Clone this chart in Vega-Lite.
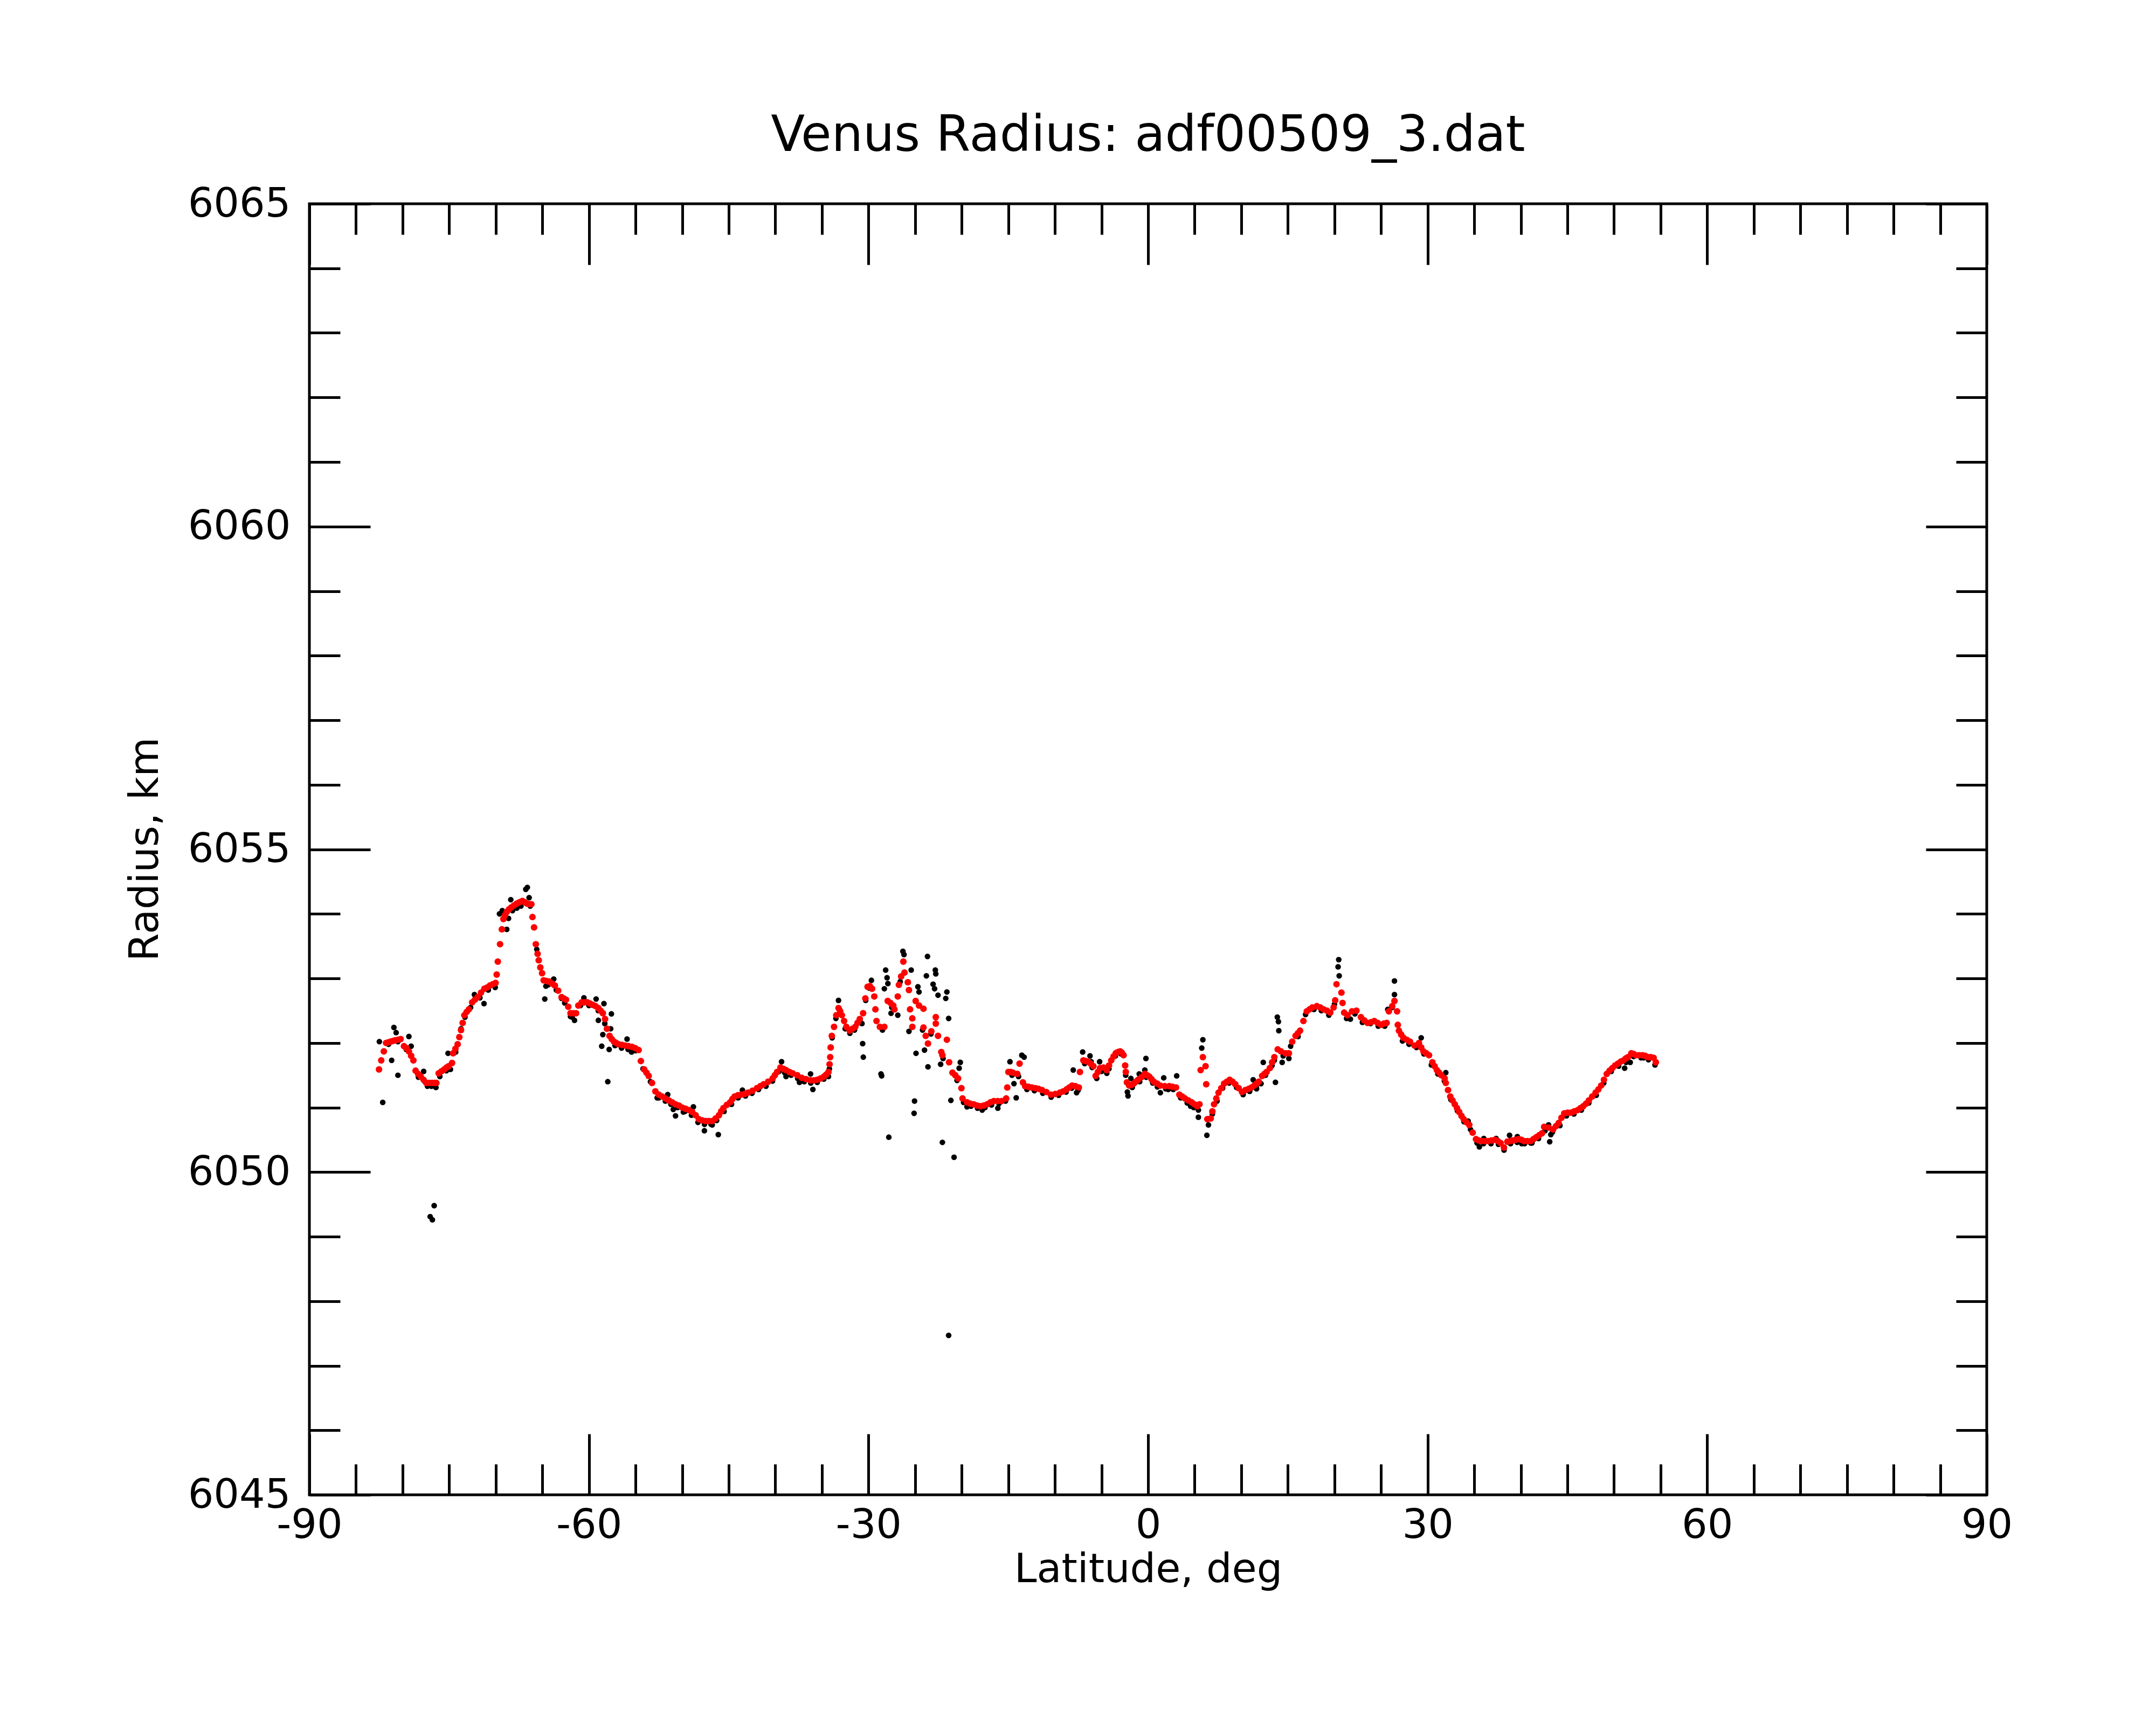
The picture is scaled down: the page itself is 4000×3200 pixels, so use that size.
{
  "$schema": "https://vega.github.io/schema/vega-lite/v6.json",
  "width": 3112,
  "height": 2395,
  "autosize": "none",
  "padding": {"left": 574, "top": 378, "right": 314, "bottom": 427},
  "background": "white",
  "title": {
    "text": "Venus Radius: adf00509_3.dat",
    "fontSize": 92,
    "fontWeight": "normal",
    "color": "black",
    "anchor": "middle",
    "baseline": "alphabetic",
    "offset": -31
  },
  "config": {
    "font": "DejaVu Sans",
    "view": {"stroke": "black", "strokeWidth": 5}
  },
  "datasets": {
    "raw": [
      {"lat": -82.49, "r": 6052.02}, {"lat": -82.13, "r": 6051.08}, {"lat": -81.5, "r": 6051.98}, {"lat": -81.17, "r": 6051.73},
      {"lat": -80.93, "r": 6052.24}, {"lat": -80.69, "r": 6052.16}, {"lat": -80.5, "r": 6051.5}, {"lat": -80.5, "r": 6052.02},
      {"lat": -79.6, "r": 6051.9}, {"lat": -79.32, "r": 6052.1}, {"lat": -79.08, "r": 6051.95}, {"lat": -78.3, "r": 6051.47},
      {"lat": -77.74, "r": 6051.56}, {"lat": -77.6, "r": 6051.4}, {"lat": -77.33, "r": 6051.33}, {"lat": -77.04, "r": 6049.31},
      {"lat": -76.9, "r": 6051.33}, {"lat": -76.8, "r": 6049.26}, {"lat": -76.61, "r": 6049.48}, {"lat": -76.42, "r": 6051.31},
      {"lat": -76.0, "r": 6051.48}, {"lat": -75.3, "r": 6051.57}, {"lat": -75.12, "r": 6051.84}, {"lat": -74.86, "r": 6051.59},
      {"lat": -74.3, "r": 6051.86}, {"lat": -73.73, "r": 6052.22}, {"lat": -73.3, "r": 6052.4}, {"lat": -72.7, "r": 6052.55},
      {"lat": -72.29, "r": 6052.75}, {"lat": -71.7, "r": 6052.7}, {"lat": -71.26, "r": 6052.61}, {"lat": -70.8, "r": 6052.82},
      {"lat": -70.06, "r": 6052.86}, {"lat": -69.6, "r": 6054.0}, {"lat": -69.3, "r": 6054.05}, {"lat": -68.82, "r": 6053.76},
      {"lat": -68.63, "r": 6053.93}, {"lat": -68.39, "r": 6054.22}, {"lat": -68.2, "r": 6054.05}, {"lat": -67.74, "r": 6054.09},
      {"lat": -67.3, "r": 6054.12}, {"lat": -66.78, "r": 6054.38}, {"lat": -66.61, "r": 6054.41}, {"lat": -66.42, "r": 6054.25},
      {"lat": -66.3, "r": 6054.12}, {"lat": -65.6, "r": 6053.45}, {"lat": -64.74, "r": 6052.68}, {"lat": -64.62, "r": 6052.88},
      {"lat": -64.4, "r": 6052.9}, {"lat": -63.78, "r": 6052.99}, {"lat": -63.5, "r": 6052.82}, {"lat": -62.94, "r": 6052.69},
      {"lat": -62.6, "r": 6052.62}, {"lat": -61.98, "r": 6052.41}, {"lat": -61.8, "r": 6052.4}, {"lat": -61.55, "r": 6052.35},
      {"lat": -60.9, "r": 6052.58}, {"lat": -60.54, "r": 6052.7}, {"lat": -60.0, "r": 6052.58}, {"lat": -59.23, "r": 6052.68},
      {"lat": -59.0, "r": 6052.5}, {"lat": -58.99, "r": 6052.35}, {"lat": -58.63, "r": 6051.95}, {"lat": -58.51, "r": 6052.13},
      {"lat": -58.39, "r": 6052.61}, {"lat": -58.3, "r": 6052.3}, {"lat": -57.98, "r": 6051.4}, {"lat": -57.83, "r": 6051.9},
      {"lat": -57.67, "r": 6052.22}, {"lat": -57.59, "r": 6052.45}, {"lat": -57.2, "r": 6051.96}, {"lat": -56.5, "r": 6051.92},
      {"lat": -55.91, "r": 6052.06}, {"lat": -55.8, "r": 6051.9}, {"lat": -55.43, "r": 6051.86}, {"lat": -55.0, "r": 6051.88},
      {"lat": -54.2, "r": 6051.6}, {"lat": -53.4, "r": 6051.4}, {"lat": -52.68, "r": 6051.15}, {"lat": -52.5, "r": 6051.15},
      {"lat": -51.8, "r": 6051.1}, {"lat": -51.55, "r": 6051.2}, {"lat": -51.2, "r": 6051.05}, {"lat": -50.95, "r": 6050.97},
      {"lat": -50.71, "r": 6050.87}, {"lat": -50.5, "r": 6051.0}, {"lat": -49.87, "r": 6050.93}, {"lat": -49.7, "r": 6050.94},
      {"lat": -49.0, "r": 6050.88}, {"lat": -48.79, "r": 6051.01}, {"lat": -48.3, "r": 6050.77}, {"lat": -47.61, "r": 6050.64},
      {"lat": -47.6, "r": 6050.74}, {"lat": -46.9, "r": 6050.74}, {"lat": -46.77, "r": 6050.73}, {"lat": -46.3, "r": 6050.8},
      {"lat": -46.12, "r": 6050.58}, {"lat": -45.5, "r": 6050.94}, {"lat": -44.7, "r": 6051.05}, {"lat": -44.0, "r": 6051.15},
      {"lat": -43.53, "r": 6051.27}, {"lat": -43.2, "r": 6051.18}, {"lat": -42.5, "r": 6051.22}, {"lat": -41.8, "r": 6051.28},
      {"lat": -41.0, "r": 6051.33}, {"lat": -40.3, "r": 6051.41}, {"lat": -39.6, "r": 6051.56}, {"lat": -39.33, "r": 6051.71},
      {"lat": -39.0, "r": 6051.54}, {"lat": -38.85, "r": 6051.48}, {"lat": -38.3, "r": 6051.5}, {"lat": -37.6, "r": 6051.45},
      {"lat": -37.41, "r": 6051.39}, {"lat": -36.9, "r": 6051.4}, {"lat": -36.22, "r": 6051.52}, {"lat": -36.2, "r": 6051.38},
      {"lat": -35.97, "r": 6051.28}, {"lat": -35.5, "r": 6051.39}, {"lat": -34.8, "r": 6051.44}, {"lat": -34.3, "r": 6051.48},
      {"lat": -34.2, "r": 6051.6}, {"lat": -33.9, "r": 6052.08}, {"lat": -33.5, "r": 6052.38}, {"lat": -33.22, "r": 6052.66},
      {"lat": -33.1, "r": 6052.52}, {"lat": -32.5, "r": 6052.22}, {"lat": -32.0, "r": 6052.15}, {"lat": -31.5, "r": 6052.2},
      {"lat": -30.9, "r": 6052.33}, {"lat": -30.7, "r": 6052.3}, {"lat": -30.63, "r": 6051.99}, {"lat": -30.56, "r": 6051.78},
      {"lat": -30.3, "r": 6052.66}, {"lat": -29.9, "r": 6052.85}, {"lat": -29.69, "r": 6052.97}, {"lat": -28.66, "r": 6051.52},
      {"lat": -28.59, "r": 6051.49}, {"lat": -28.5, "r": 6052.2}, {"lat": -28.3, "r": 6052.84}, {"lat": -28.16, "r": 6053.13},
      {"lat": -28.01, "r": 6053.01}, {"lat": -27.92, "r": 6052.92}, {"lat": -27.82, "r": 6050.54}, {"lat": -27.58, "r": 6052.46},
      {"lat": -27.5, "r": 6052.55}, {"lat": -26.86, "r": 6052.43}, {"lat": -26.6, "r": 6052.95}, {"lat": -26.31, "r": 6053.42},
      {"lat": -26.19, "r": 6053.37}, {"lat": -25.66, "r": 6052.18}, {"lat": -25.42, "r": 6053.13}, {"lat": -25.11, "r": 6050.91},
      {"lat": -25.06, "r": 6051.1}, {"lat": -24.9, "r": 6051.84}, {"lat": -24.7, "r": 6052.87}, {"lat": -24.58, "r": 6052.79},
      {"lat": -24.2, "r": 6052.2}, {"lat": -23.99, "r": 6051.89}, {"lat": -23.79, "r": 6053.04}, {"lat": -23.67, "r": 6053.34},
      {"lat": -23.62, "r": 6051.63}, {"lat": -23.3, "r": 6052.14}, {"lat": -23.07, "r": 6052.91}, {"lat": -22.91, "r": 6052.84},
      {"lat": -22.83, "r": 6053.13}, {"lat": -22.78, "r": 6053.07}, {"lat": -22.54, "r": 6052.74}, {"lat": -22.26, "r": 6051.67},
      {"lat": -22.07, "r": 6050.46}, {"lat": -22.0, "r": 6051.76}, {"lat": -21.71, "r": 6052.69}, {"lat": -21.59, "r": 6052.79},
      {"lat": -21.4, "r": 6052.38}, {"lat": -21.4, "r": 6047.47}, {"lat": -21.16, "r": 6051.11}, {"lat": -20.82, "r": 6050.23},
      {"lat": -20.5, "r": 6051.42}, {"lat": -20.27, "r": 6051.61}, {"lat": -20.15, "r": 6051.7}, {"lat": -19.8, "r": 6051.08},
      {"lat": -19.43, "r": 6051.01}, {"lat": -19.0, "r": 6051.02}, {"lat": -18.3, "r": 6050.99}, {"lat": -17.8, "r": 6050.96},
      {"lat": -17.5, "r": 6051.0}, {"lat": -16.8, "r": 6051.04}, {"lat": -16.12, "r": 6050.99}, {"lat": -16.0, "r": 6051.06},
      {"lat": -15.3, "r": 6051.1}, {"lat": -14.82, "r": 6051.71}, {"lat": -14.6, "r": 6051.5}, {"lat": -14.39, "r": 6051.37},
      {"lat": -14.15, "r": 6051.15}, {"lat": -13.9, "r": 6051.48}, {"lat": -13.55, "r": 6051.81}, {"lat": -13.3, "r": 6051.78},
      {"lat": -13.0, "r": 6051.28}, {"lat": -12.2, "r": 6051.26}, {"lat": -11.3, "r": 6051.22}, {"lat": -10.4, "r": 6051.16},
      {"lat": -9.6, "r": 6051.19}, {"lat": -8.8, "r": 6051.24}, {"lat": -8.2, "r": 6051.3}, {"lat": -8.03, "r": 6051.58},
      {"lat": -7.67, "r": 6051.23}, {"lat": -7.5, "r": 6051.27}, {"lat": -7.02, "r": 6051.86}, {"lat": -6.8, "r": 6051.68},
      {"lat": -6.23, "r": 6051.8}, {"lat": -6.11, "r": 6051.71}, {"lat": -6.0, "r": 6051.62}, {"lat": -5.51, "r": 6051.45},
      {"lat": -5.2, "r": 6051.71}, {"lat": -5.0, "r": 6051.56}, {"lat": -4.43, "r": 6051.53}, {"lat": -4.2, "r": 6051.6},
      {"lat": -3.5, "r": 6051.8}, {"lat": -2.9, "r": 6051.83}, {"lat": -2.4, "r": 6051.5}, {"lat": -2.22, "r": 6051.24},
      {"lat": -2.15, "r": 6051.18}, {"lat": -1.84, "r": 6051.45}, {"lat": -1.7, "r": 6051.31}, {"lat": -0.95, "r": 6051.52},
      {"lat": -0.9, "r": 6051.4}, {"lat": -0.35, "r": 6051.58}, {"lat": -0.23, "r": 6051.76}, {"lat": -0.2, "r": 6051.47},
      {"lat": 0.5, "r": 6051.38}, {"lat": 1.0, "r": 6051.32}, {"lat": 1.32, "r": 6051.23}, {"lat": 1.68, "r": 6051.46},
      {"lat": 1.9, "r": 6051.29}, {"lat": 2.16, "r": 6051.28}, {"lat": 2.7, "r": 6051.28}, {"lat": 3.07, "r": 6051.49},
      {"lat": 3.5, "r": 6051.15}, {"lat": 4.2, "r": 6051.07}, {"lat": 4.56, "r": 6051.02}, {"lat": 4.9, "r": 6051.0},
      {"lat": 5.4, "r": 6050.96}, {"lat": 5.4, "r": 6050.85}, {"lat": 5.76, "r": 6051.92}, {"lat": 5.88, "r": 6052.05},
      {"lat": 6.31, "r": 6050.57}, {"lat": 6.48, "r": 6050.73}, {"lat": 6.9, "r": 6050.9}, {"lat": 7.4, "r": 6051.1},
      {"lat": 8.0, "r": 6051.3}, {"lat": 8.7, "r": 6051.38}, {"lat": 9.5, "r": 6051.31}, {"lat": 10.2, "r": 6051.2},
      {"lat": 10.9, "r": 6051.25}, {"lat": 11.28, "r": 6051.43}, {"lat": 11.6, "r": 6051.32}, {"lat": 11.64, "r": 6051.29},
      {"lat": 12.12, "r": 6051.37}, {"lat": 12.36, "r": 6051.7}, {"lat": 12.6, "r": 6051.5}, {"lat": 13.3, "r": 6051.65},
      {"lat": 13.55, "r": 6051.73}, {"lat": 13.67, "r": 6051.39}, {"lat": 13.87, "r": 6052.4}, {"lat": 13.99, "r": 6052.33},
      {"lat": 14.03, "r": 6052.19}, {"lat": 14.39, "r": 6051.7}, {"lat": 14.5, "r": 6051.8}, {"lat": 15.11, "r": 6051.76},
      {"lat": 15.3, "r": 6051.95}, {"lat": 16.1, "r": 6052.1}, {"lat": 16.9, "r": 6052.44}, {"lat": 17.8, "r": 6052.52},
      {"lat": 18.6, "r": 6052.5}, {"lat": 19.4, "r": 6052.43}, {"lat": 20.0, "r": 6052.6}, {"lat": 20.39, "r": 6053.18},
      {"lat": 20.46, "r": 6053.29}, {"lat": 20.51, "r": 6053.04}, {"lat": 21.3, "r": 6052.38}, {"lat": 21.71, "r": 6052.37},
      {"lat": 22.2, "r": 6052.45}, {"lat": 23.0, "r": 6052.32}, {"lat": 23.87, "r": 6052.3}, {"lat": 24.7, "r": 6052.26},
      {"lat": 25.4, "r": 6052.26}, {"lat": 25.72, "r": 6052.52}, {"lat": 26.2, "r": 6052.55}, {"lat": 26.44, "r": 6052.96},
      {"lat": 26.44, "r": 6052.75}, {"lat": 27.3, "r": 6052.03}, {"lat": 28.0, "r": 6051.98}, {"lat": 28.8, "r": 6051.93},
      {"lat": 29.31, "r": 6052.08}, {"lat": 29.6, "r": 6051.83}, {"lat": 30.4, "r": 6051.66}, {"lat": 31.1, "r": 6051.52},
      {"lat": 31.8, "r": 6051.41}, {"lat": 31.95, "r": 6051.54}, {"lat": 32.5, "r": 6051.12}, {"lat": 33.2, "r": 6050.95},
      {"lat": 33.9, "r": 6050.78}, {"lat": 34.35, "r": 6050.79}, {"lat": 34.6, "r": 6050.66}, {"lat": 35.3, "r": 6050.45},
      {"lat": 35.55, "r": 6050.39}, {"lat": 36.0, "r": 6050.44}, {"lat": 36.03, "r": 6050.52}, {"lat": 36.8, "r": 6050.44},
      {"lat": 37.35, "r": 6050.52}, {"lat": 37.6, "r": 6050.43}, {"lat": 38.2, "r": 6050.34}, {"lat": 38.79, "r": 6050.57},
      {"lat": 38.9, "r": 6050.44}, {"lat": 39.6, "r": 6050.46}, {"lat": 39.63, "r": 6050.55}, {"lat": 40.1, "r": 6050.44},
      {"lat": 40.4, "r": 6050.44}, {"lat": 41.06, "r": 6050.45}, {"lat": 41.2, "r": 6050.45}, {"lat": 41.9, "r": 6050.52},
      {"lat": 42.6, "r": 6050.64}, {"lat": 42.98, "r": 6050.73}, {"lat": 43.1, "r": 6050.47}, {"lat": 43.22, "r": 6050.58},
      {"lat": 43.4, "r": 6050.62}, {"lat": 44.2, "r": 6050.72}, {"lat": 44.78, "r": 6050.91}, {"lat": 44.9, "r": 6050.87},
      {"lat": 45.7, "r": 6050.9}, {"lat": 46.5, "r": 6050.96}, {"lat": 47.3, "r": 6051.07}, {"lat": 48.1, "r": 6051.19},
      {"lat": 48.9, "r": 6051.38}, {"lat": 49.7, "r": 6051.56}, {"lat": 50.5, "r": 6051.64}, {"lat": 51.14, "r": 6051.61},
      {"lat": 51.3, "r": 6051.7}, {"lat": 51.74, "r": 6051.7}, {"lat": 52.1, "r": 6051.79}, {"lat": 52.9, "r": 6051.77},
      {"lat": 53.17, "r": 6051.77}, {"lat": 53.7, "r": 6051.74}, {"lat": 54.4, "r": 6051.66}
    ],
    "fit": [
      {"lat": -82.53, "r": 6051.59}, {"lat": -82.29, "r": 6051.73}, {"lat": -82.01, "r": 6051.87}, {"lat": -81.77, "r": 6052.0},
      {"lat": -81.53, "r": 6052.01}, {"lat": -81.29, "r": 6052.02}, {"lat": -81.05, "r": 6052.03}, {"lat": -80.81, "r": 6052.04},
      {"lat": -80.51, "r": 6052.05}, {"lat": -80.21, "r": 6052.06}, {"lat": -79.85, "r": 6051.95}, {"lat": -79.58, "r": 6051.92},
      {"lat": -79.32, "r": 6051.87}, {"lat": -79.08, "r": 6051.8}, {"lat": -78.84, "r": 6051.73}, {"lat": -78.6, "r": 6051.57},
      {"lat": -78.33, "r": 6051.52}, {"lat": -78.05, "r": 6051.48}, {"lat": -77.75, "r": 6051.43}, {"lat": -77.45, "r": 6051.38},
      {"lat": -77.15, "r": 6051.38}, {"lat": -76.85, "r": 6051.38}, {"lat": -76.61, "r": 6051.38}, {"lat": -76.37, "r": 6051.38},
      {"lat": -76.13, "r": 6051.53}, {"lat": -75.83, "r": 6051.56}, {"lat": -75.53, "r": 6051.59}, {"lat": -75.29, "r": 6051.62},
      {"lat": -75.05, "r": 6051.64}, {"lat": -74.69, "r": 6051.69}, {"lat": -74.57, "r": 6051.84}, {"lat": -74.33, "r": 6051.91},
      {"lat": -74.09, "r": 6051.98}, {"lat": -73.91, "r": 6052.09}, {"lat": -73.73, "r": 6052.2}, {"lat": -73.55, "r": 6052.31},
      {"lat": -73.37, "r": 6052.43}, {"lat": -73.13, "r": 6052.48}, {"lat": -72.89, "r": 6052.52}, {"lat": -72.53, "r": 6052.63},
      {"lat": -72.24, "r": 6052.67}, {"lat": -71.94, "r": 6052.71}, {"lat": -71.58, "r": 6052.78}, {"lat": -71.22, "r": 6052.84},
      {"lat": -70.92, "r": 6052.86}, {"lat": -70.62, "r": 6052.89}, {"lat": -70.32, "r": 6052.91}, {"lat": -70.02, "r": 6052.93},
      {"lat": -69.9, "r": 6053.06}, {"lat": -69.78, "r": 6053.26}, {"lat": -69.54, "r": 6053.53}, {"lat": -69.35, "r": 6053.76},
      {"lat": -69.18, "r": 6053.92}, {"lat": -69.0, "r": 6053.98}, {"lat": -68.82, "r": 6054.03}, {"lat": -68.58, "r": 6054.07},
      {"lat": -68.34, "r": 6054.1}, {"lat": -68.04, "r": 6054.13}, {"lat": -67.74, "r": 6054.16}, {"lat": -67.44, "r": 6054.18},
      {"lat": -67.14, "r": 6054.2}, {"lat": -66.9, "r": 6054.18}, {"lat": -66.66, "r": 6054.16}, {"lat": -66.42, "r": 6054.15},
      {"lat": -66.18, "r": 6054.15}, {"lat": -66.06, "r": 6053.95}, {"lat": -65.89, "r": 6053.79}, {"lat": -65.7, "r": 6053.53},
      {"lat": -65.51, "r": 6053.38}, {"lat": -65.39, "r": 6053.28}, {"lat": -65.22, "r": 6053.17}, {"lat": -65.03, "r": 6053.08},
      {"lat": -64.86, "r": 6052.97}, {"lat": -64.56, "r": 6052.96}, {"lat": -64.26, "r": 6052.95}, {"lat": -63.96, "r": 6052.92},
      {"lat": -63.66, "r": 6052.89}, {"lat": -63.3, "r": 6052.81}, {"lat": -62.94, "r": 6052.71}, {"lat": -62.7, "r": 6052.69},
      {"lat": -62.46, "r": 6052.67}, {"lat": -62.22, "r": 6052.56}, {"lat": -61.98, "r": 6052.46}, {"lat": -61.68, "r": 6052.46},
      {"lat": -61.38, "r": 6052.46}, {"lat": -61.14, "r": 6052.58}, {"lat": -60.78, "r": 6052.63}, {"lat": -60.48, "r": 6052.63},
      {"lat": -60.18, "r": 6052.63}, {"lat": -59.89, "r": 6052.61}, {"lat": -59.59, "r": 6052.59}, {"lat": -59.29, "r": 6052.57},
      {"lat": -58.99, "r": 6052.54}, {"lat": -58.75, "r": 6052.5}, {"lat": -58.51, "r": 6052.46}, {"lat": -58.27, "r": 6052.37},
      {"lat": -58.07, "r": 6052.22}, {"lat": -57.79, "r": 6052.11}, {"lat": -57.55, "r": 6052.06}, {"lat": -57.31, "r": 6052.02},
      {"lat": -57.07, "r": 6052.0}, {"lat": -56.83, "r": 6051.98}, {"lat": -56.47, "r": 6051.97}, {"lat": -56.11, "r": 6051.96},
      {"lat": -55.75, "r": 6051.95}, {"lat": -55.39, "r": 6051.94}, {"lat": -55.03, "r": 6051.92}, {"lat": -54.67, "r": 6051.89},
      {"lat": -54.43, "r": 6051.72}, {"lat": -54.07, "r": 6051.59}, {"lat": -53.83, "r": 6051.54}, {"lat": -53.59, "r": 6051.49},
      {"lat": -53.23, "r": 6051.38}, {"lat": -52.87, "r": 6051.25}, {"lat": -52.51, "r": 6051.2}, {"lat": -52.15, "r": 6051.17},
      {"lat": -51.79, "r": 6051.14}, {"lat": -51.43, "r": 6051.11}, {"lat": -51.07, "r": 6051.08}, {"lat": -50.71, "r": 6051.05},
      {"lat": -50.35, "r": 6051.03}, {"lat": -49.99, "r": 6051.0}, {"lat": -49.63, "r": 6050.98}, {"lat": -49.27, "r": 6050.96},
      {"lat": -48.91, "r": 6050.93}, {"lat": -48.55, "r": 6050.88}, {"lat": -48.21, "r": 6050.82}, {"lat": -47.85, "r": 6050.8},
      {"lat": -47.49, "r": 6050.79}, {"lat": -47.13, "r": 6050.79}, {"lat": -46.77, "r": 6050.79}, {"lat": -46.41, "r": 6050.83},
      {"lat": -46.05, "r": 6050.88}, {"lat": -45.81, "r": 6050.94}, {"lat": -45.57, "r": 6050.99}, {"lat": -45.21, "r": 6051.04},
      {"lat": -44.85, "r": 6051.08}, {"lat": -44.61, "r": 6051.13}, {"lat": -44.37, "r": 6051.17}, {"lat": -44.01, "r": 6051.19},
      {"lat": -43.65, "r": 6051.2}, {"lat": -43.29, "r": 6051.21}, {"lat": -42.93, "r": 6051.23}, {"lat": -42.45, "r": 6051.26},
      {"lat": -41.97, "r": 6051.3}, {"lat": -41.61, "r": 6051.33}, {"lat": -41.25, "r": 6051.36}, {"lat": -40.77, "r": 6051.4},
      {"lat": -40.29, "r": 6051.45}, {"lat": -40.05, "r": 6051.5}, {"lat": -39.81, "r": 6051.55}, {"lat": -39.45, "r": 6051.62},
      {"lat": -39.15, "r": 6051.6}, {"lat": -38.85, "r": 6051.58}, {"lat": -38.49, "r": 6051.55}, {"lat": -38.13, "r": 6051.53},
      {"lat": -37.65, "r": 6051.5}, {"lat": -37.17, "r": 6051.46}, {"lat": -36.69, "r": 6051.44}, {"lat": -36.22, "r": 6051.42},
      {"lat": -35.86, "r": 6051.42}, {"lat": -35.5, "r": 6051.43}, {"lat": -35.14, "r": 6051.45}, {"lat": -34.78, "r": 6051.48},
      {"lat": -34.54, "r": 6051.51}, {"lat": -34.3, "r": 6051.55}, {"lat": -34.18, "r": 6051.67}, {"lat": -34.11, "r": 6051.78},
      {"lat": -34.06, "r": 6051.93}, {"lat": -33.94, "r": 6052.11}, {"lat": -33.7, "r": 6052.25}, {"lat": -33.46, "r": 6052.43},
      {"lat": -33.22, "r": 6052.54}, {"lat": -33.04, "r": 6052.49}, {"lat": -32.86, "r": 6052.43}, {"lat": -32.62, "r": 6052.34},
      {"lat": -32.38, "r": 6052.25}, {"lat": -32.02, "r": 6052.19}, {"lat": -31.72, "r": 6052.22}, {"lat": -31.42, "r": 6052.25},
      {"lat": -31.18, "r": 6052.31}, {"lat": -30.94, "r": 6052.37}, {"lat": -30.58, "r": 6052.46}, {"lat": -30.34, "r": 6052.69},
      {"lat": -30.1, "r": 6052.87}, {"lat": -29.86, "r": 6052.88}, {"lat": -29.62, "r": 6052.84}, {"lat": -29.38, "r": 6052.72},
      {"lat": -29.26, "r": 6052.52}, {"lat": -29.14, "r": 6052.34}, {"lat": -28.78, "r": 6052.25}, {"lat": -28.3, "r": 6052.25},
      {"lat": -27.94, "r": 6052.65}, {"lat": -27.64, "r": 6052.62}, {"lat": -27.34, "r": 6052.58}, {"lat": -27.22, "r": 6052.52},
      {"lat": -26.86, "r": 6052.72}, {"lat": -26.74, "r": 6052.9}, {"lat": -26.5, "r": 6053.03}, {"lat": -26.26, "r": 6053.26},
      {"lat": -26.14, "r": 6053.09}, {"lat": -25.78, "r": 6052.94}, {"lat": -25.66, "r": 6052.82}, {"lat": -25.54, "r": 6052.52},
      {"lat": -25.3, "r": 6052.38}, {"lat": -25.3, "r": 6052.25}, {"lat": -24.94, "r": 6052.65}, {"lat": -24.58, "r": 6052.58},
      {"lat": -24.1, "r": 6052.53}, {"lat": -24.1, "r": 6052.24}, {"lat": -23.86, "r": 6052.11}, {"lat": -23.62, "r": 6051.99},
      {"lat": -23.26, "r": 6052.18}, {"lat": -22.78, "r": 6052.4}, {"lat": -22.78, "r": 6052.3}, {"lat": -22.54, "r": 6052.11},
      {"lat": -22.19, "r": 6051.86}, {"lat": -22.07, "r": 6051.81}, {"lat": -21.59, "r": 6052.05}, {"lat": -21.35, "r": 6051.7},
      {"lat": -20.99, "r": 6051.54}, {"lat": -20.69, "r": 6051.5}, {"lat": -20.39, "r": 6051.45}, {"lat": -20.03, "r": 6051.3},
      {"lat": -19.91, "r": 6051.14}, {"lat": -19.43, "r": 6051.08}, {"lat": -19.07, "r": 6051.06}, {"lat": -18.71, "r": 6051.05},
      {"lat": -18.35, "r": 6051.03}, {"lat": -17.99, "r": 6051.02}, {"lat": -17.63, "r": 6051.03}, {"lat": -17.27, "r": 6051.05},
      {"lat": -16.91, "r": 6051.08}, {"lat": -16.55, "r": 6051.1}, {"lat": -16.13, "r": 6051.1}, {"lat": -15.71, "r": 6051.1},
      {"lat": -15.23, "r": 6051.14}, {"lat": -15.11, "r": 6051.31}, {"lat": -14.99, "r": 6051.55}, {"lat": -14.75, "r": 6051.55},
      {"lat": -14.51, "r": 6051.54}, {"lat": -14.03, "r": 6051.52}, {"lat": -13.79, "r": 6051.68}, {"lat": -13.43, "r": 6051.39},
      {"lat": -13.19, "r": 6051.33}, {"lat": -12.83, "r": 6051.32}, {"lat": -12.47, "r": 6051.31}, {"lat": -12.1, "r": 6051.3},
      {"lat": -11.76, "r": 6051.29}, {"lat": -11.39, "r": 6051.27}, {"lat": -10.91, "r": 6051.24}, {"lat": -10.43, "r": 6051.2},
      {"lat": -9.95, "r": 6051.21}, {"lat": -9.47, "r": 6051.23}, {"lat": -9.11, "r": 6051.25}, {"lat": -8.75, "r": 6051.28},
      {"lat": -8.45, "r": 6051.31}, {"lat": -8.15, "r": 6051.34}, {"lat": -7.79, "r": 6051.33}, {"lat": -7.43, "r": 6051.31},
      {"lat": -7.31, "r": 6051.55}, {"lat": -6.95, "r": 6051.73}, {"lat": -6.71, "r": 6051.72}, {"lat": -6.47, "r": 6051.71},
      {"lat": -6.17, "r": 6051.68}, {"lat": -5.87, "r": 6051.64}, {"lat": -5.63, "r": 6051.49}, {"lat": -5.39, "r": 6051.55},
      {"lat": -5.15, "r": 6051.61}, {"lat": -4.79, "r": 6051.62}, {"lat": -4.43, "r": 6051.58}, {"lat": -4.19, "r": 6051.65},
      {"lat": -3.95, "r": 6051.73}, {"lat": -3.71, "r": 6051.79}, {"lat": -3.47, "r": 6051.84}, {"lat": -3.23, "r": 6051.86},
      {"lat": -2.99, "r": 6051.87}, {"lat": -2.81, "r": 6051.85}, {"lat": -2.63, "r": 6051.81}, {"lat": -2.46, "r": 6051.65},
      {"lat": -2.39, "r": 6051.55}, {"lat": -2.27, "r": 6051.39}, {"lat": -2.03, "r": 6051.34}, {"lat": -1.79, "r": 6051.35},
      {"lat": -1.55, "r": 6051.37}, {"lat": -1.31, "r": 6051.4}, {"lat": -1.07, "r": 6051.43}, {"lat": -0.71, "r": 6051.47},
      {"lat": -0.35, "r": 6051.52}, {"lat": -0.11, "r": 6051.5}, {"lat": 0.13, "r": 6051.48}, {"lat": 0.37, "r": 6051.44},
      {"lat": 0.61, "r": 6051.4}, {"lat": 0.97, "r": 6051.37}, {"lat": 1.32, "r": 6051.34}, {"lat": 1.8, "r": 6051.33},
      {"lat": 2.28, "r": 6051.33}, {"lat": 2.64, "r": 6051.32}, {"lat": 3.0, "r": 6051.31}, {"lat": 3.36, "r": 6051.2},
      {"lat": 3.66, "r": 6051.17}, {"lat": 3.96, "r": 6051.14}, {"lat": 4.32, "r": 6051.11}, {"lat": 4.68, "r": 6051.08},
      {"lat": 4.98, "r": 6051.05}, {"lat": 5.28, "r": 6051.02}, {"lat": 5.52, "r": 6051.05}, {"lat": 5.64, "r": 6051.58},
      {"lat": 5.88, "r": 6051.78}, {"lat": 6.17, "r": 6051.64}, {"lat": 6.24, "r": 6051.36}, {"lat": 6.36, "r": 6050.82},
      {"lat": 6.72, "r": 6050.83}, {"lat": 6.9, "r": 6050.94}, {"lat": 7.08, "r": 6051.05}, {"lat": 7.32, "r": 6051.14},
      {"lat": 7.56, "r": 6051.23}, {"lat": 7.86, "r": 6051.3}, {"lat": 8.16, "r": 6051.37}, {"lat": 8.46, "r": 6051.4},
      {"lat": 8.76, "r": 6051.43}, {"lat": 9.06, "r": 6051.4}, {"lat": 9.36, "r": 6051.36}, {"lat": 9.72, "r": 6051.3},
      {"lat": 10.08, "r": 6051.24}, {"lat": 10.44, "r": 6051.27}, {"lat": 10.8, "r": 6051.29}, {"lat": 11.1, "r": 6051.31},
      {"lat": 11.4, "r": 6051.34}, {"lat": 11.64, "r": 6051.37}, {"lat": 11.88, "r": 6051.4}, {"lat": 12.24, "r": 6051.49},
      {"lat": 12.48, "r": 6051.52}, {"lat": 12.72, "r": 6051.55}, {"lat": 13.07, "r": 6051.61}, {"lat": 13.31, "r": 6051.7},
      {"lat": 13.55, "r": 6051.78}, {"lat": 13.91, "r": 6051.9}, {"lat": 14.27, "r": 6051.87}, {"lat": 14.75, "r": 6051.84},
      {"lat": 15.11, "r": 6051.84}, {"lat": 15.47, "r": 6052.02}, {"lat": 15.83, "r": 6052.11}, {"lat": 16.07, "r": 6052.15},
      {"lat": 16.31, "r": 6052.19}, {"lat": 16.67, "r": 6052.34}, {"lat": 17.03, "r": 6052.49}, {"lat": 17.33, "r": 6052.52},
      {"lat": 17.63, "r": 6052.55}, {"lat": 18.11, "r": 6052.57}, {"lat": 18.47, "r": 6052.55}, {"lat": 18.83, "r": 6052.52},
      {"lat": 19.19, "r": 6052.5}, {"lat": 19.55, "r": 6052.47}, {"lat": 19.91, "r": 6052.55}, {"lat": 20.08, "r": 6052.66},
      {"lat": 20.22, "r": 6052.91}, {"lat": 20.75, "r": 6052.78}, {"lat": 20.87, "r": 6052.62}, {"lat": 21.04, "r": 6052.47},
      {"lat": 21.4, "r": 6052.43}, {"lat": 21.88, "r": 6052.49}, {"lat": 22.36, "r": 6052.5}, {"lat": 22.84, "r": 6052.4},
      {"lat": 23.2, "r": 6052.35}, {"lat": 23.56, "r": 6052.31}, {"lat": 23.92, "r": 6052.32}, {"lat": 24.28, "r": 6052.34},
      {"lat": 24.64, "r": 6052.31}, {"lat": 25.0, "r": 6052.28}, {"lat": 25.3, "r": 6052.3}, {"lat": 25.6, "r": 6052.31},
      {"lat": 25.84, "r": 6052.49}, {"lat": 26.2, "r": 6052.57}, {"lat": 26.44, "r": 6052.65}, {"lat": 26.72, "r": 6052.49},
      {"lat": 26.8, "r": 6052.28}, {"lat": 26.92, "r": 6052.19}, {"lat": 27.16, "r": 6052.13}, {"lat": 27.4, "r": 6052.08},
      {"lat": 27.76, "r": 6052.05}, {"lat": 28.11, "r": 6052.02}, {"lat": 28.59, "r": 6051.96}, {"lat": 29.07, "r": 6052.0},
      {"lat": 29.31, "r": 6051.93}, {"lat": 29.55, "r": 6051.87}, {"lat": 29.85, "r": 6051.84}, {"lat": 30.15, "r": 6051.81},
      {"lat": 30.51, "r": 6051.7}, {"lat": 30.75, "r": 6051.64}, {"lat": 30.99, "r": 6051.58}, {"lat": 31.23, "r": 6051.54},
      {"lat": 31.47, "r": 6051.5}, {"lat": 31.83, "r": 6051.45}, {"lat": 31.95, "r": 6051.38}, {"lat": 32.19, "r": 6051.27},
      {"lat": 32.43, "r": 6051.17}, {"lat": 32.67, "r": 6051.11}, {"lat": 32.91, "r": 6051.05}, {"lat": 33.15, "r": 6050.99},
      {"lat": 33.39, "r": 6050.93}, {"lat": 33.63, "r": 6050.87}, {"lat": 33.87, "r": 6050.82}, {"lat": 34.17, "r": 6050.77},
      {"lat": 34.47, "r": 6050.73}, {"lat": 34.83, "r": 6050.61}, {"lat": 35.19, "r": 6050.51}, {"lat": 35.49, "r": 6050.49},
      {"lat": 35.79, "r": 6050.48}, {"lat": 36.15, "r": 6050.48}, {"lat": 36.51, "r": 6050.48}, {"lat": 36.87, "r": 6050.49},
      {"lat": 37.23, "r": 6050.5}, {"lat": 37.53, "r": 6050.48}, {"lat": 37.83, "r": 6050.45}, {"lat": 38.19, "r": 6050.38},
      {"lat": 38.55, "r": 6050.47}, {"lat": 38.85, "r": 6050.48}, {"lat": 39.15, "r": 6050.49}, {"lat": 39.45, "r": 6050.5},
      {"lat": 39.75, "r": 6050.51}, {"lat": 40.05, "r": 6050.5}, {"lat": 40.34, "r": 6050.48}, {"lat": 40.7, "r": 6050.48},
      {"lat": 41.06, "r": 6050.48}, {"lat": 41.36, "r": 6050.51}, {"lat": 41.66, "r": 6050.54}, {"lat": 41.96, "r": 6050.57},
      {"lat": 42.26, "r": 6050.6}, {"lat": 42.5, "r": 6050.7}, {"lat": 42.98, "r": 6050.69}, {"lat": 43.46, "r": 6050.66},
      {"lat": 43.76, "r": 6050.71}, {"lat": 44.06, "r": 6050.76}, {"lat": 44.36, "r": 6050.84}, {"lat": 44.66, "r": 6050.91},
      {"lat": 45.02, "r": 6050.92}, {"lat": 45.38, "r": 6050.92}, {"lat": 45.74, "r": 6050.94}, {"lat": 46.1, "r": 6050.96},
      {"lat": 46.4, "r": 6050.99}, {"lat": 46.7, "r": 6051.02}, {"lat": 47.0, "r": 6051.06}, {"lat": 47.3, "r": 6051.11},
      {"lat": 47.66, "r": 6051.17}, {"lat": 48.02, "r": 6051.23}, {"lat": 48.32, "r": 6051.28}, {"lat": 48.62, "r": 6051.34},
      {"lat": 48.92, "r": 6051.43}, {"lat": 49.22, "r": 6051.52}, {"lat": 49.52, "r": 6051.57}, {"lat": 49.82, "r": 6051.61},
      {"lat": 50.12, "r": 6051.65}, {"lat": 50.42, "r": 6051.68}, {"lat": 50.72, "r": 6051.71}, {"lat": 51.02, "r": 6051.73},
      {"lat": 51.26, "r": 6051.76}, {"lat": 51.5, "r": 6051.78}, {"lat": 51.86, "r": 6051.84}, {"lat": 52.1, "r": 6051.83},
      {"lat": 52.34, "r": 6051.81}, {"lat": 52.7, "r": 6051.81}, {"lat": 53.05, "r": 6051.81}, {"lat": 53.35, "r": 6051.8},
      {"lat": 53.65, "r": 6051.78}, {"lat": 53.95, "r": 6051.78}, {"lat": 54.25, "r": 6051.77}, {"lat": 54.49, "r": 6051.7}
    ]
  },
  "encoding": {
    "x": {
      "field": "lat",
      "type": "quantitative",
      "scale": {"domain": [-90, 90], "nice": false, "zero": false},
      "axis": {
        "title": "Latitude, deg",
        "values": [-90, -85, -80, -75, -70, -65, -60, -55, -50, -45, -40, -35, -30, -25, -20, -15, -10, -5, 0, 5, 10, 15, 20, 25, 30, 35, 40, 45, 50, 55, 60, 65, 70, 75, 80, 85, 90],
        "labelExpr": "datum.value % 30 === 0 ? '' + datum.value : ''",
        "labelOverlap": false,
        "labelFlush": false,
        "labelLimit": 0,
        "labelFontSize": 75,
        "labelColor": "black",
        "labelBaseline": "top",
        "labelPadding": 20,
        "ticks": false,
        "tickSize": 0,
        "domain": false,
        "grid": true,
        "gridColor": "black",
        "gridOpacity": 1,
        "gridWidth": 5,
        "gridDash": {"condition": {"test": "datum.value % 30 === 0", "value": [113, 2169]}, "value": [57, 2281]},
        "titleFontSize": 75,
        "titleFontWeight": "normal",
        "titleColor": "black",
        "titleX": 1556,
        "titleY": 161,
        "titleAlign": "center",
        "titleBaseline": "alphabetic"
      }
    },
    "y": {
      "field": "r",
      "type": "quantitative",
      "scale": {"domain": [6045, 6065], "nice": false, "zero": false},
      "axis": {
        "title": "Radius, km",
        "values": [6045, 6046, 6047, 6048, 6049, 6050, 6051, 6052, 6053, 6054, 6055, 6056, 6057, 6058, 6059, 6060, 6061, 6062, 6063, 6064, 6065],
        "labelExpr": "datum.value % 5 === 0 ? '' + datum.value : ''",
        "labelOverlap": false,
        "labelFlush": false,
        "labelLimit": 0,
        "labelFontSize": 75,
        "labelColor": "black",
        "labelPadding": 35,
        "ticks": false,
        "tickSize": 0,
        "domain": false,
        "grid": true,
        "gridColor": "black",
        "gridOpacity": 1,
        "gridWidth": 5,
        "gridDash": {"condition": {"test": "datum.value % 5 === 0", "value": [113, 2886]}, "value": [57, 2998]},
        "titleFontSize": 75,
        "titleFontWeight": "normal",
        "titleColor": "black",
        "titleX": -282,
        "titleY": 1197,
        "titleAngle": -90,
        "titleAlign": "center",
        "titleBaseline": "alphabetic"
      }
    }
  },
  "layer": [
    {
      "data": {"name": "raw"},
      "mark": {"type": "circle", "size": 110, "color": "black", "opacity": 1}
    },
    {
      "data": {"name": "fit"},
      "mark": {"type": "circle", "size": 150, "color": "red", "opacity": 1}
    }
  ]
}
